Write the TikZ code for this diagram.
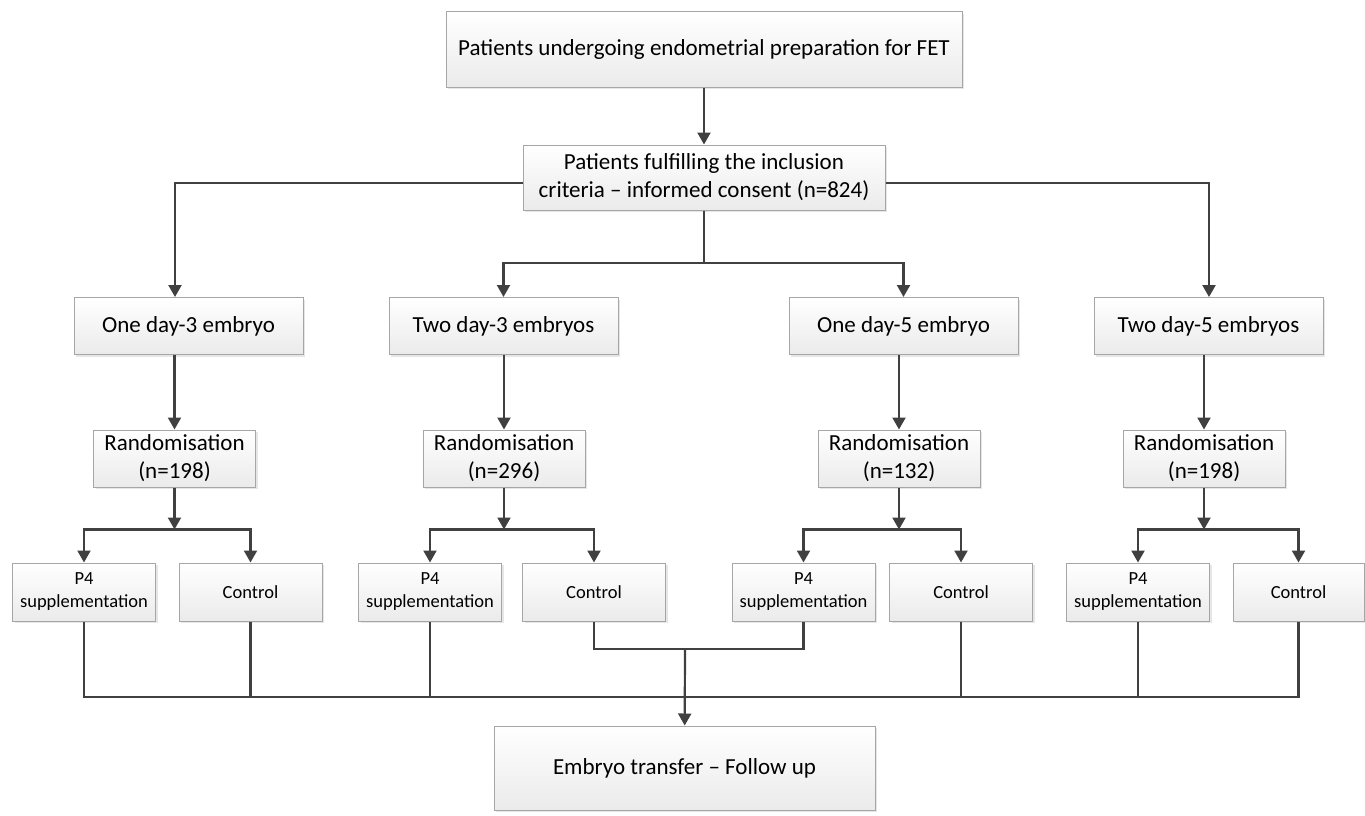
\documentclass[tikz,border=0pt]{standalone}
\usepackage{fontspec}
\setmainfont{Carlito}
\usetikzlibrary{arrows.meta}
\usetikzlibrary{shadows}
\definecolor{linegray}{HTML}{404040}
\definecolor{boxline}{HTML}{A6A6A6}

\begin{document}
\begin{tikzpicture}[x=1pt, y=-1pt,
    box/.style={draw=boxline, line width=1pt, top color=white, bottom color=gray!16,
      drop shadow={shadow xshift=2pt, shadow yshift=-2pt, opacity=0.2},
      inner sep=0pt, align=center, font=\fontsize{23}{28}\selectfont},
    embbox/.style={box, minimum width=229pt, minimum height=57pt},
    rndbox/.style={box, minimum width=162pt, minimum height=57pt},
    armbox/.style={box, minimum width=143pt, minimum height=58pt,
      font=\fontsize{18.5}{23}\selectfont},
    link/.style={draw=linegray, line width=2.2pt},
    arr/.style={link, -{Triangle[width=13pt, length=12pt]}}]
  \useasboundingbox (0,0) rectangle (1365,816);

  \node[box, minimum width=516pt, minimum height=75pt] (top) at (704,49.5)
    {Patients undergoing endometrial preparation for FET};
  \node[box, minimum width=362pt, minimum height=65pt] (incl) at (704,177.5)
    {Patients fulfilling the inclusion\\criteria -- informed consent (n=824)};

  % embryo groups
  \node[embbox] (emb1) at (188.5,326) {One day-3 embryo};
  \node[embbox] (emb2) at (503.5,326) {Two day-3 embryos};
  \node[embbox] (emb3) at (903.5,326) {One day-5 embryo};
  \node[embbox] (emb4) at (1208.5,326) {Two day-5 embryos};

  \node[rndbox] (rnd1) at (174.5,458.5) {Randomisation\\(n=198)};
  \node[rndbox] (rnd2) at (504,458.5) {Randomisation\\(n=296)};
  \node[rndbox] (rnd3) at (899,458.5) {Randomisation\\(n=132)};
  \node[rndbox] (rnd4) at (1204,458.5) {Randomisation\\(n=198)};

  % arms
  \node[armbox] (p41) at (84,592) {P4\\supplementation};
  \node[armbox] (ctl1) at (250.5,592) {Control};
  \node[armbox] (p42) at (430,592) {P4\\supplementation};
  \node[armbox] (ctl2) at (594,592) {Control};
  \node[armbox] (p43) at (803.5,592) {P4\\supplementation};
  \node[armbox] (ctl3) at (961,592) {Control};
  \node[armbox] (p44) at (1138,592) {P4\\supplementation};
  \node[armbox, minimum width=131pt] (ctl4) at (1298.5,592) {Control};

  \node[box, minimum width=381pt, minimum height=84pt] (ft) at (684.5,768)
    {Embryo transfer -- Follow up};

  \coordinate (jl) at (175,183);
  \coordinate (jr) at (1209,183);
  \coordinate (jm) at (704,263);
  \coordinate (jb) at (685,649);
  \coordinate (lb) at (84,697);

  \draw[arr] (top) -- (incl);
  \draw[arr] (incl.west |- jl) -- (jl) -- (jl |- emb1.north);
  \draw[arr] (incl.east |- jr) -- (jr) -- (jr |- emb4.north);
  \draw[link] (incl.south -| jm) -- (jm);
  \draw[arr] (jm) -| (emb2.north);
  \draw[arr] (jm) -| (emb3.north);

  \draw[arr] (emb1.south -| rnd1) -- (rnd1);
  \foreach \i in {2,3,4}
    \draw[arr] (emb\i.south -| rnd\i) -- (rnd\i);

  % split after randomisation
  \foreach \i in {1,2,3,4} {
    \coordinate (s\i) at ([yshift=-42pt]rnd\i.south);
    \draw[arr] (rnd\i) -- (s\i);
    \draw[arr] (s\i) -| (p4\i.north);
    \draw[arr] (s\i) -| (ctl\i.north);
  }

  % back together
  \draw[link] (p41.south) -- (p41.south |- lb) -- (ctl4.south |- lb) -- (ctl4.south);
  \foreach \n in {ctl1,p42,ctl3,p44}
    \draw[link] (\n.south) -- (\n.south |- lb);
  \draw[link] (ctl2.south) |- (jb) -| (p43.south);
  \draw[arr] (jb) -- (ft);
\end{tikzpicture}
\end{document}
